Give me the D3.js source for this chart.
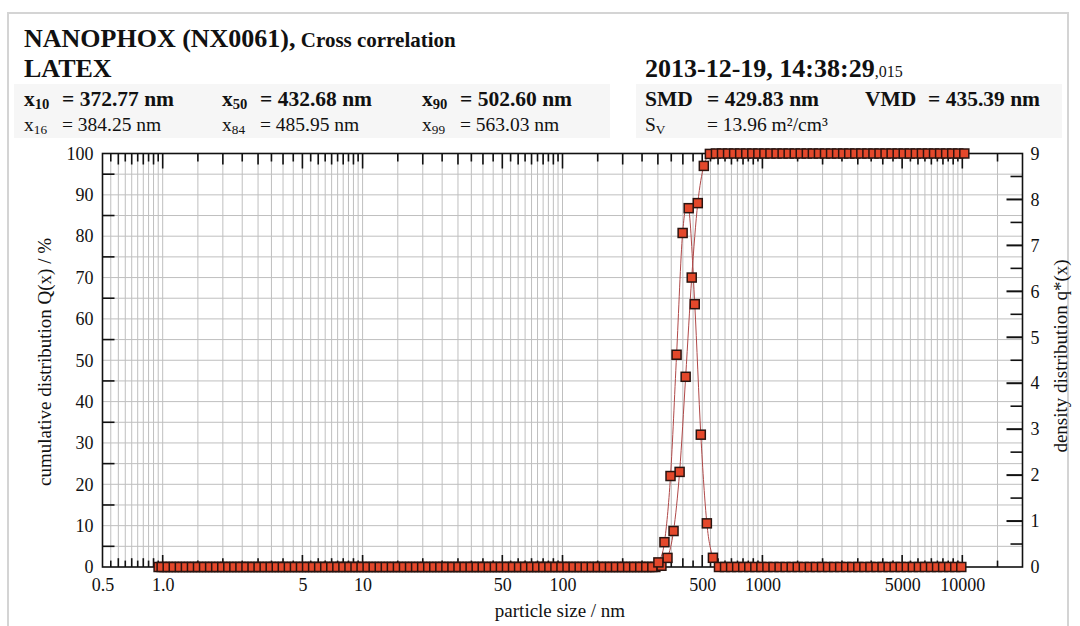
<!DOCTYPE html>
<html><head><meta charset="utf-8">
<script src="https://cdn.jsdelivr.net/npm/d3@7"></script>
<style>
body{margin:0;background:#fff;}
svg{display:block;font-family:"Liberation Serif","Times New Roman",serif;}
</style>
</head><body>
<svg id="c" width="1080" height="626"></svg>
<script>
// ---- data (size classes in nm) ----
const sizes = [
0.954,
1.023,1.097,1.177,1.262,1.353,1.451,1.555,1.668,1.788,1.918,2.056,2.205,2.364,2.535,2.718,2.914,3.125,3.351,3.593,3.853,4.131,4.430,4.750,5.093,5.461,5.856,6.279,6.733,7.219,7.741,8.301,8.900,9.543,
10.23,10.97,11.77,12.62,13.53,14.51,15.55,16.68,17.88,19.18,20.56,22.05,23.64,25.35,27.18,29.14,31.25,33.51,35.93,38.53,41.31,44.30,47.50,50.93,54.61,58.56,62.79,67.33,72.19,77.41,83.01,89.00,95.43,
102.3,109.7,117.7,126.2,135.3,145.1,155.5,166.8,178.8,191.8,205.6,220.5,236.4,253.5,271.8,291.4,312.5,335.1,359.3,385.3,413.1,443.0,475.0,509.3,546.1,585.6,627.9,673.3,721.9,774.1,830.1,890.0,954.3,
1023,1097,1177,1262,1353,1451,1555,1668,1788,1918,2056,2205,2364,2535,2718,2914,3125,3351,3593,3853,4131,4430,4750,5093,5461,5856,6279,6733,7219,7741,8301,8900,9543,
10233];

// cumulative distribution Q(x) / % at class upper bounds (one per size)
const cumulative = [
0,0,0,0,0,0,0,0,0,0,
0,0,0,0,0,0,0,0,0,0,
0,0,0,0,0,0,0,0,0,0,
0,0,0,0,0,0,0,0,0,0,
0,0,0,0,0,0,0,0,0,0,
0,0,0,0,0,0,0,0,0,0,
0,0,0,0,0,0,0,0,0,0,
0,0,0,0,0,0,0,0,0,0,
0,0,0,
0.3,2.2,8.7,23,46,70,88,97,99.9,
100,100,100,100,100,100,100,100,100,100,
100,100,100,100,100,100,100,100,100,100,
100,100,100,100,100,100,100,100,100,100,
100,100,100,100,100,100,100,100,100,100,
100,100];

// density distribution q*(x) at class centres (between consecutive sizes)
const density = [
0,0,0,0,0,0,0,0,0,0,
0,0,0,0,0,0,0,0,0,0,
0,0,0,0,0,0,0,0,0,0,
0,0,0,0,0,0,0,0,0,0,
0,0,0,0,0,0,0,0,0,0,
0,0,0,0,0,0,0,0,0,0,
0,0,0,0,0,0,0,0,0,0,
0,0,0,0,0,0,0,0,0,0,
0,0,
0.1,0.54,1.98,4.62,7.27,7.81,5.72,2.88,0.95,0.2,
0,0,0,0,0,0,0,0,0,0,
0,0,0,0,0,0,0,0,0,0,
0,0,0,0,0,0,0,0,0,0,
0,0,0,0,0,0,0,0,0,0,
0];

const xTickValues = [0.5,1,5,10,50,100,500,1000,5000,10000];
const xTickLabels = ["0.5","1.0","5","10","50","100","500","1000","5000","10000"];
const leftTicks = [0,10,20,30,40,50,60,70,80,90,100];
const rightTicks = [0,1,2,3,4,5,6,7,8,9];

// ---- layout ----
const svg = d3.select("#c");
const L = 102.5, R = 1022.5, T = 153.5, B = 567;
const x = d3.scaleLog().domain([0.5, 20000]).range([L, R]);
const yL = d3.scaleLinear().domain([0, 100]).range([B, T]);
const yR = d3.scaleLinear().domain([0, 9]).range([B, T]);

svg.append("rect").attr("width",1080).attr("height",626).attr("fill","#fff");
// page frame
svg.append("rect").attr("x",8).attr("y",13).attr("width",1060).attr("height",640)
  .attr("fill","none").attr("stroke","#d4d4d4").attr("stroke-width",2);
// faint stats band
svg.append("rect").attr("x",14).attr("y",84).attr("width",596).attr("height",54).attr("fill","#f6f6f6");
svg.append("rect").attr("x",636).attr("y",84).attr("width",426).attr("height",54).attr("fill","#f6f6f6");

// ---- header ----
const hd = svg.append("g").attr("fill","#111");
const t1 = hd.append("text").attr("x",24).attr("y",47).attr("font-weight","bold");
t1.append("tspan").attr("font-size",26).text("NANOPHOX (NX0061),");
t1.append("tspan").attr("font-size",21).text(" Cross correlation");
hd.append("text").attr("x",24).attr("y",77).attr("font-weight","bold").attr("font-size",26).text("LATEX");
const dt = hd.append("text").attr("x",645).attr("y",77);
dt.append("tspan").attr("font-weight","bold").attr("font-size",26).text("2013-12-19, 14:38:29");
dt.append("tspan").attr("font-size",16).text(",015");

function stat(px, py, sym, sub, eqx, val, bold) {
  const fs = bold ? 21.5 : 19.5;
  const t = hd.append("text").attr("x",px).attr("y",py).attr("font-size",fs)
    .attr("font-weight", bold ? "bold" : "normal");
  t.append("tspan").text(sym);
  t.append("tspan").attr("font-size",fs*0.68).attr("dy",3).text(sub);
  hd.append("text").attr("x",eqx).attr("y",py).attr("font-size",fs)
    .attr("font-weight", bold ? "bold" : "normal").text(val);
}
stat(24,106,"x","10",62,"= 372.77 nm",true);
stat(222,106,"x","50",260,"= 432.68 nm",true);
stat(422,106,"x","90",460,"= 502.60 nm",true);
stat(645,106,"SMD","",707,"= 429.83 nm",true);
stat(865,106,"VMD","",928,"= 435.39 nm",true);
stat(24,131,"x","16",62,"= 384.25 nm",false);
stat(222,131,"x","84",260,"= 485.95 nm",false);
stat(422,131,"x","99",460,"= 563.03 nm",false);
stat(645,131,"S","V",707,"= 13.96 m²/cm³",false);

// ---- grid ----
const gridX = [];
[0.1,1,10,100,1000,10000].forEach(p => {
  for (let m = 1; m < 10; m += 0.5) {
    const v = +(m * p).toPrecision(6);
    if (v > 0.5 && v < 20000) gridX.push({v, m});
  }
});
const grid = svg.append("g").attr("stroke","#bfbfbf").attr("stroke-width",1);
grid.selectAll("line.v").data(gridX).join("line")
  .attr("x1",d=>x(d.v)).attr("x2",d=>x(d.v)).attr("y1",T).attr("y2",B);
const gridY = d3.range(5,100,5);
grid.selectAll("line.h").data(gridY).join("line")
  .attr("x1",L).attr("x2",R).attr("y1",d=>yL(d)).attr("y2",d=>yL(d));

// ---- tick marks ----
const tk = svg.append("g").attr("stroke","#111").attr("stroke-width",1.6);
function tlen(d){ if (d.m===1 || d.m===5) return 15; if (Number.isInteger(d.m)) return 11; return 8; }
tk.selectAll("line.tb").data(gridX).join("line")
  .attr("x1",d=>x(d.v)).attr("x2",d=>x(d.v)).attr("y1",B).attr("y2",d=>B-tlen(d)*0.8);
tk.selectAll("line.tt").data(gridX).join("line")
  .attr("x1",d=>x(d.v)).attr("x2",d=>x(d.v)).attr("y1",T).attr("y2",d=>T+tlen(d));
tk.selectAll("line.tl").data(d3.range(5,100,10)).join("line")
  .attr("x1",L).attr("x2",L+12).attr("y1",d=>yL(d)).attr("y2",d=>yL(d));
tk.selectAll("line.tr").data(d3.range(0.5,9,0.5)).join("line")
  .attr("x1",R).attr("x2",d=>R-(Number.isInteger(d)?16:12)).attr("y1",d=>yR(d)).attr("y2",d=>yR(d))
  .attr("stroke-width",d=>Number.isInteger(d)?2:1.6);

// frame
svg.append("rect").attr("x",L).attr("y",T).attr("width",R-L).attr("height",B-T)
  .attr("fill","none").attr("stroke","#111").attr("stroke-width",1.6);

// ---- axes labels via d3 axes ----
const fsT = 18;
const ax = svg.append("g").attr("transform",`translate(0,${B})`)
  .call(d3.axisBottom(x).tickValues(xTickValues).tickFormat((d,i)=>xTickLabels[i]).tickSize(0).tickPadding(11));
const al = svg.append("g").attr("transform",`translate(${L},0)`)
  .call(d3.axisLeft(yL).tickValues(leftTicks).tickFormat(d3.format("d")).tickSize(0).tickPadding(9));
const ar = svg.append("g").attr("transform",`translate(${R},0)`)
  .call(d3.axisRight(yR).tickValues(rightTicks).tickFormat(d3.format("d")).tickSize(0).tickPadding(8));
[ax,al,ar].forEach(g=>{
  g.select(".domain").remove();
  g.selectAll("text").attr("font-family","Liberation Serif, serif").attr("font-size",fsT).attr("fill","#111");
});

svg.append("text").attr("transform","translate(51,362) rotate(-90)").attr("text-anchor","middle")
  .attr("font-size",19).attr("fill","#111").text("cumulative distribution Q(x) / %");
svg.append("text").attr("transform","translate(1067,356) rotate(-90)").attr("text-anchor","middle")
  .attr("font-size",19).attr("fill","#111").text("density distribution q*(x)");
svg.append("text").attr("x",560).attr("y",617).attr("text-anchor","middle")
  .attr("font-size",19).attr("fill","#111").text("particle size / nm");

// ---- series ----
const cumPts = sizes.map((s,i)=>({x:s, y:cumulative[i]}));
const denPts = density.map((v,i)=>({x:Math.sqrt(sizes[i]*sizes[i+1]), y:v}));

const lineC = d3.line().x(d=>x(d.x)).y(d=>yL(d.y)).curve(d3.curveCatmullRom.alpha(0));
const lineD = d3.line().x(d=>x(d.x)).y(d=>yR(d.y)).curve(d3.curveCatmullRom.alpha(0));
svg.append("path").attr("d",lineC(cumPts)).attr("fill","none").attr("stroke","#b04848").attr("stroke-width",1);
svg.append("path").attr("d",lineD(denPts)).attr("fill","none").attr("stroke","#b04848").attr("stroke-width",1);

const ms = 9;
function markers(pts, ys){
  svg.append("g").selectAll("rect").data(pts).join("rect")
    .attr("x",d=>x(d.x)-ms/2).attr("y",d=>ys(d.y)-ms/2).attr("width",ms).attr("height",ms)
    .attr("fill","#e4482b").attr("stroke","#2a1410").attr("stroke-width",1.5);
}
markers(cumPts, yL);
markers(denPts, yR);
</script>
</body></html>
